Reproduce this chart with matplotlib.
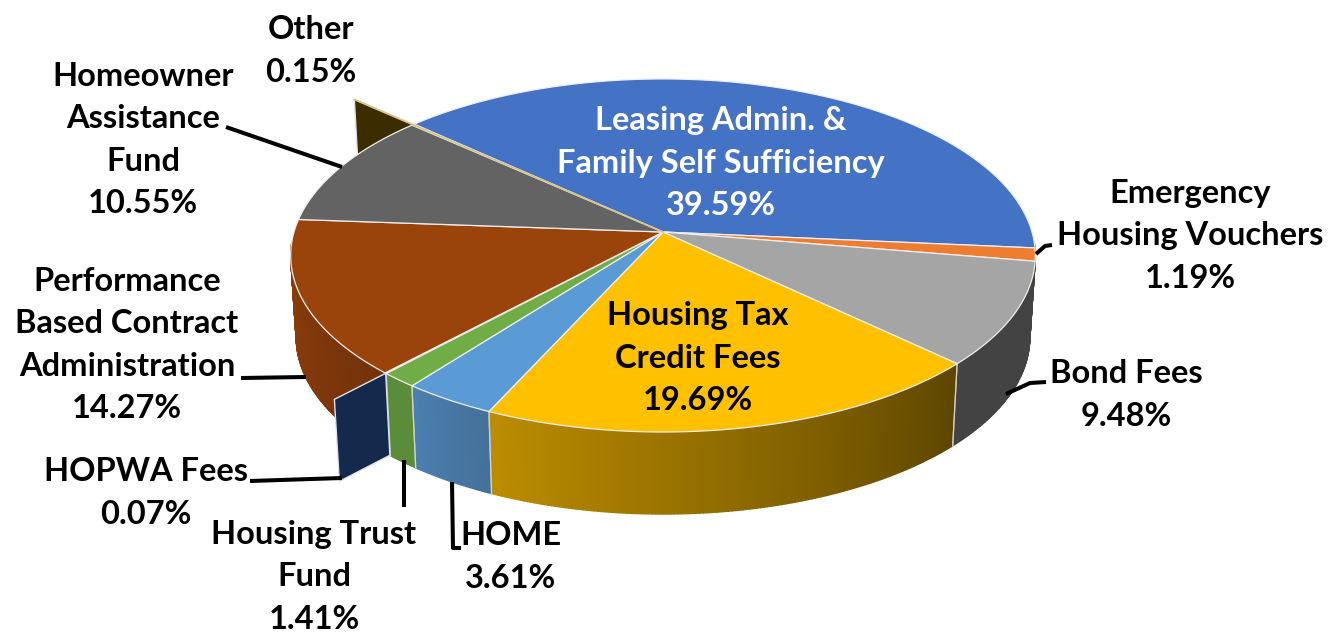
import numpy as np
import matplotlib
matplotlib.use("Agg")
import matplotlib.pyplot as plt
from matplotlib.colors import to_rgb

# slices, clockwise from the top left
names = ["Leasing Admin. &\nFamily Self Sufficiency", "Emergency\nHousing Vouchers", "Bond Fees",
         "Housing Tax\nCredit Fees", "HOME", "Housing Trust\nFund", "HOPWA Fees",
         "Performance\nBased Contract\nAdministration", "Homeowner\nAssistance\nFund", "Other"]
values = [39.59, 1.19, 9.48, 19.69, 3.61, 1.41, 0.07, 14.27, 10.55, 0.15]

top_colors = ["#4472C4", "#ED7D31", "#A5A5A5", "#FFC000", "#5B9BD5", "#70AD47",
              "#264478", "#9A440C", "#636363", "#997300"]
wall_left = ["#4472C4", "#C9682A", "#434343", "#BC8D00", "#4C7FAF", "#5A8C3A",
             "#15294D", "#8E3F0B", "#636363", "#3B2D00"]
wall_right = ["#4472C4", "#C9682A", "#434343", "#5E4600", "#44719A", "#5A8C3A",
              "#15294D", "#74320A", "#636363", "#3B2D00"]
explode = [0, 0, 0, 0, 0, 0, 0.185, 0, 0, 0.235]

# pie geometry in picture pixels
cx, cy = 663, 232
sx, sy, persp = 369, 173.4, -0.133
depth, bottom_scale = 82, 0.985
start = 137.3


def rim(deg):
    t = np.radians(deg)
    w = 1 + persp * np.sin(-t)
    return cx + sx * np.cos(t) / w, cy - sy * np.sin(t) / w


def drop(x, y):
    return cx + (x - cx) * bottom_scale, y + depth


fig = plt.figure(figsize=(13.42, 6.35), dpi=100)
ax = fig.add_axes([0, 0, 1, 1])
ax.set_xlim(0, 1342)
ax.set_ylim(635, 0)
ax.axis("off")
plt.rcParams["font.family"] = ["Lato", "DejaVu Sans"]

sweeps = np.array(values) / sum(values) * 360
ends = start - np.cumsum(sweeps)
starts = ends + sweeps

# outer walls, shaded along the rim
for i in range(len(values)):
    a0, a1 = starts[i], ends[i]
    angs = np.arange(a1, a0, 0.5)
    angs = np.append(angs, a0)
    angs = angs[np.sin(np.radians(angs)) < -0.05]
    if len(angs) < 2 or explode[i] > 0:
        continue
    c0, c1 = np.array(to_rgb(wall_left[i])), np.array(to_rgb(wall_right[i]))
    for j in range(len(angs) - 1):
        x0, y0 = rim(angs[j])
        x1, y1 = rim(angs[j + 1])
        x2, y2 = drop(x1, y1)
        x3, y3 = drop(x0, y0)
        f = j / max(len(angs) - 2, 1)
        col = c0 + (c1 - c0) * f
        ax.fill([x0, x1, x2, x3], [y0, y1, y2, y3], facecolor=col, edgecolor=col, lw=1.0, zorder=2)
    # seam between wall sections, only where the section really ends
    for a in (a0, a1):
        if np.sin(np.radians(a)) < -0.3:
            x0, y0 = rim(a)
            x1, y1 = drop(x0, y0)
            ax.plot([x0, x1], [y0, y1], color="#d8d8d8", lw=0.9, alpha=0.8, zorder=3)

# the two thin slices pulled out of the pie show only their cut faces
for i in range(len(values)):
    if explode[i] == 0:
        continue
    x0, y0 = rim((starts[i] + ends[i]) / 2)
    x1 = x0 + (x0 - cx) * explode[i]
    y1 = y0 + (y0 - cy) * explode[i]
    x2, y2 = drop(x1, y1)
    x3, y3 = drop(x0, y0)
    ax.fill([x0, x1, x2, x3], [y0, y1, y2, y3], facecolor=wall_left[i],
            edgecolor="#dfe3ea", lw=1.0, zorder=4)

# top faces
for i in range(len(values)):
    if explode[i] > 0:
        continue
    angs = np.linspace(starts[i], ends[i], max(int(sweeps[i] * 2), 3))
    px, py = rim(angs)
    ax.fill(np.r_[cx, px], np.r_[cy, py], facecolor=top_colors[i],
            edgecolor="#eeeeee", lw=0.9, zorder=5)

# light edge of the Other slice, seen nearly edge on
other = len(values) - 1
ox, oy = rim((starts[other] + ends[other]) / 2)
ax.plot([cx, ox + (ox - cx) * explode[other]], [cy, oy + (oy - cy) * explode[other]],
        color="#D9C48C", lw=1.3, zorder=6)

# leader lines
leaders = [([226, 342], [127, 167]),
           ([241, 306], [378, 377]),
           ([250, 342], [481, 478]),
           ([404, 404], [460, 507]),
           ([452, 453, 461], [482, 548, 548]),
           ([1006, 1030, 1046], [394, 383, 382]),
           ([1036, 1045, 1052], [254, 246, 245])]
for lx, ly in leaders:
    ax.plot(lx, ly, color="black", lw=2.9, solid_capstyle="butt", solid_joinstyle="round", zorder=7)

label_pos = [(721, 163), (1190, 236), (1126, 395), (698, 358), (511, 557),
             (314, 577), (146, 493), (127, 345), (143, 140), (311, 51)]
label_col = ["white", "black", "black", "black", "black", "black", "black", "black", "black", "black"]

for name, val, (tx, ty), tc in zip(names, values, label_pos, label_col):
    ax.text(tx, ty, f"{name}\n{val:.2f}%", ha="center", va="center", color=tc,
            fontsize=23.5, fontweight="bold", linespacing=1.56, zorder=8)

fig.savefig("out.png", dpi=100)
